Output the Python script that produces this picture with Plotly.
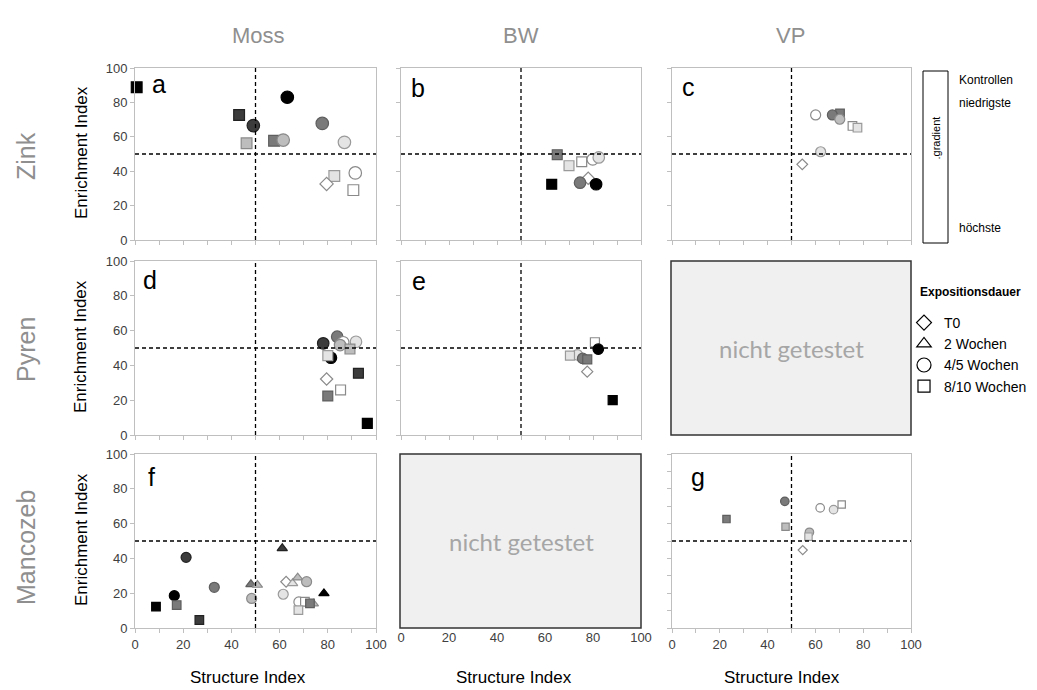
import plotly.graph_objects as go

W, H = 1037, 690

# ---------------- text / categories ----------------
col_titles = ["Moss", "BW", "VP"]
row_titles = ["Zink", "Pyren", "Mancozeb"]
panel_letters = ["a", "b", "c", "d", "e", "f", "g"]
legend_title = "Expositionsdauer"
legend_labels = ["T0", "2 Wochen", "4/5 Wochen", "8/10 Wochen"]
gradient_labels = ["Kontrollen", "niedrigste", "höchste"]
gradient_text = ".gradient"
not_tested = "nicht getestet"
x_title = "Structure Index"
y_title = "Enrichment Index"
tick_vals = [0, 20, 40, 60, 80, 100]
threshold = 50

# symbol codes: D = T0 (diamond), T = 2 Wochen, C = 4/5 Wochen, S = 8/10 Wochen
# shade codes: w = Kontrollen ... k = höchste Konzentration

# a: Moss / Zink
a_x = [0.7, 43.2, 49.1, 63.2, 46.3, 57.7, 61.5, 77.7, 86.9, 91.4, 82.7, 79.5, 90.6]
a_y = [88.8, 72.7, 66.5, 83.0, 56.2, 57.7, 58.1, 67.8, 56.8, 39.0, 37.2, 32.6, 29.0]
a_sym = ["S", "S", "C", "C", "S", "S", "C", "C", "C", "C", "S", "D", "S"]
a_shade = ["k", "d", "d", "k", "l", "m", "l", "m", "vl", "w", "vl", "w", "w"]

# b: BW / Zink
b_x = [65.1, 70.0, 75.3, 79.9, 82.4, 62.8, 78.0, 74.6, 81.3]
b_y = [49.6, 43.2, 45.5, 46.9, 48.0, 32.4, 35.9, 33.3, 32.4]
b_sym = ["S", "S", "S", "C", "C", "S", "D", "C", "C"]
b_shade = ["m", "vl", "w", "w", "vl", "k", "w", "m", "k"]

# c: VP / Zink
c_x = [60.1, 70.3, 67.1, 70.2, 75.5, 77.6, 62.2, 54.5]
c_y = [72.7, 73.6, 72.7, 70.2, 66.3, 65.3, 51.3, 44.0]
c_sym = ["C", "S", "C", "C", "S", "S", "C", "D"]
c_shade = ["w", "m", "m", "l", "w", "vl", "vl", "w"]

# d: Moss / Pyren
d_x = [79.5, 85.3, 80.0, 96.4, 92.7, 78.1, 83.9, 86.4, 85.1, 91.7, 89.2, 81.3, 80.0]
d_y = [32.2, 25.9, 22.4, 6.7, 35.5, 52.7, 56.5, 53.3, 51.7, 53.6, 49.4, 44.4, 45.6]
d_sym = ["D", "S", "S", "S", "S", "C", "C", "C", "C", "C", "S", "C", "S"]
d_shade = ["w", "w", "m", "k", "d", "d", "m", "w", "l", "vl", "l", "k", "vl"]

# e: BW / Pyren
e_x = [77.6, 88.2, 73.5, 70.4, 75.7, 77.6, 80.8, 82.2]
e_y = [36.4, 20.1, 46.0, 45.6, 44.0, 43.5, 53.3, 49.3]
e_sym = ["D", "S", "C", "S", "C", "S", "S", "C"]
e_shade = ["w", "k", "vl", "vl", "m", "m", "w", "k"]

# f: Moss / Mancozeb
f_x = [8.7, 16.3, 17.3, 21.2, 26.7, 32.9, 48.1, 50.8, 48.4, 61.1, 62.7, 65.4,
       67.5, 71.2, 61.5, 78.4, 68.0, 70.5, 67.8, 74.0, 72.6]
f_y = [12.3, 18.6, 13.2, 40.6, 4.6, 23.4, 25.1, 24.7, 17.0, 45.8, 26.6, 25.7,
       28.9, 26.6, 19.4, 19.9, 15.0, 15.1, 10.3, 14.0, 14.2]
f_sym = ["S", "C", "S", "C", "S", "C", "T", "T", "C", "T", "D", "T",
         "T", "C", "C", "T", "C", "S", "S", "T", "S"]
f_shade = ["k", "k", "m", "d", "d", "m", "m", "l", "l", "d", "w", "vl",
           "l", "l", "vl", "k", "w", "w", "vl", "l", "m"]

# g: VP / Mancozeb
g_x = [22.8, 47.2, 47.5, 62.0, 67.6, 71.0, 57.5, 57.1, 54.7]
g_y = [62.6, 72.8, 58.2, 69.0, 68.0, 71.0, 55.0, 52.5, 44.8]
g_sym = ["S", "C", "S", "C", "C", "S", "C", "S", "D"]
g_shade = ["m", "m", "l", "w", "vl", "w", "l", "vl", "w"]

# ---------------- styles ----------------
FILL = {"w": "#ffffff", "vl": "#e4e4e4", "l": "#bdbdbd", "m": "#7a7a7a", "d": "#3c3c3c", "k": "#000000"}
EDGE = {"w": "#8a8a8a", "vl": "#9a9a9a", "l": "#8a8a8a", "m": "#5e5e5e", "d": "#222222", "k": "#000000"}
SYM = {"D": "diamond", "T": "triangle-up", "C": "circle", "S": "square"}
SYM_SCALE = {"D": 0.82, "T": 0.9, "C": 1.0, "S": 0.86}

COLS = [(135, 376), (401, 641), (672, 911)]
ROWS = [(68, 240), (261, 435), (454, 628)]
FONT = "Liberation Sans"
TITLE_GRAY = "#8f8f8f"
FRAME = "#bfbfbf"

panels = [
    dict(x=a_x, y=a_y, sym=a_sym, shade=a_shade, row=0, col=0, size=12.5, lab=(150, 84)),
    dict(x=b_x, y=b_y, sym=b_sym, shade=b_shade, row=0, col=1, size=11.5, lab=(409, 88)),
    dict(x=c_x, y=c_y, sym=c_sym, shade=c_shade, row=0, col=2, size=10, lab=(680, 87)),
    dict(x=d_x, y=d_y, sym=d_sym, shade=d_shade, row=1, col=0, size=11.5, lab=(141, 280)),
    dict(x=e_x, y=e_y, sym=e_sym, shade=e_shade, row=1, col=1, size=10.5, lab=(410, 281)),
    dict(x=f_x, y=f_y, sym=f_sym, shade=f_shade, row=2, col=0, size=10, lab=(146, 477)),
    dict(x=g_x, y=g_y, sym=g_sym, shade=g_shade, row=2, col=2, size=8.5, lab=(689, 477)),
]


def ax_key(kind, n):
    return f"{kind}axis" if n == 1 else f"{kind}axis{n}"


def ax_ref(kind, n):
    return kind if n == 1 else f"{kind}{n}"


def paper_text(text, px, py, size, color="black", angle=0, xanchor="center",
               family=FONT):
    fig.add_annotation(text=text, x=px / W, y=1 - py / H, xref="paper", yref="paper",
                       xanchor=xanchor, yanchor="middle", textangle=angle,
                       showarrow=False, font=dict(family=family, size=size, color=color))


fig = go.Figure()
layout = {}

for i, p in enumerate(panels):
    n = i + 1
    xr, yr = ax_ref("x", n), ax_ref("y", n)
    fig.add_trace(go.Scatter(
        x=p["x"], y=p["y"], mode="markers", xaxis=xr, yaxis=yr,
        cliponaxis=False, showlegend=False, hoverinfo="skip",
        marker=dict(
            symbol=[SYM[s] for s in p["sym"]],
            size=[p["size"] * SYM_SCALE[s] for s in p["sym"]],
            color=[FILL[c] for c in p["shade"]],
            line=dict(color=[EDGE[c] for c in p["shade"]], width=1.2),
            opacity=1,
        ),
    ))
    c0, c1 = COLS[p["col"]]
    r0, r1 = ROWS[p["row"]]
    base = dict(range=[0, 100], tickvals=tick_vals, showline=True, mirror=True,
                linecolor=FRAME, linewidth=1, ticks="outside", ticklen=4,
                tickcolor=FRAME, showgrid=False, zeroline=False, automargin=False,
                tickfont=dict(family=FONT, size=13, color="#404040"),
                fixedrange=True)
    layout[ax_key("x", n)] = dict(base, domain=[c0 / W, c1 / W], anchor=yr,
                                  showticklabels=(p["row"] == 2),
                                  minor=dict(dtick=10, tick0=0, ticks="outside", ticklen=4, tickcolor=FRAME))
    ymin = dict(minor=dict(dtick=10, tick0=0, ticks="outside", ticklen=4, tickcolor=FRAME)) if n == 7 else {}
    layout[ax_key("y", n)] = dict(base, domain=[1 - r1 / H, 1 - r0 / H], anchor=xr,
                                  showticklabels=(p["col"] == 0), **ymin)
    # threshold lines
    fig.add_shape(type="line", xref=xr, yref=f"{yr} domain", x0=threshold, x1=threshold,
                  y0=0, y1=1, line=dict(color="black", width=1.3, dash="4px,3px"))
    fig.add_shape(type="line", xref=f"{xr} domain", yref=yr, x0=0, x1=1,
                  y0=threshold, y1=threshold, line=dict(color="black", width=1.3, dash="4px,3px"))
    # panel letter
    lx, ly = p["lab"]
    paper_text(panel_letters[i], lx, ly, 25, xanchor="left")

# axis under BW / Mancozeb (labels only, box drawn over it)
layout["xaxis8"] = dict(domain=[COLS[1][0] / W, COLS[1][1] / W], anchor="y8", range=[0, 100],
                        tickvals=tick_vals, showline=False, ticks="", showgrid=False, zeroline=False,
                        automargin=False,
                        tickfont=dict(family=FONT, size=13, color="#404040"), fixedrange=True)
layout["yaxis8"] = dict(domain=[1 - ROWS[2][1] / H, 1 - ROWS[2][0] / H], anchor="x8", range=[0, 100],
                        visible=False, fixedrange=True)
fig.add_trace(go.Scatter(x=[None], y=[None], xaxis="x8", yaxis="y8", showlegend=False))

# "nicht getestet" boxes
for (r, c) in [(1, 2), (2, 1)]:
    c0, c1 = COLS[c]
    r0, r1 = ROWS[r]
    fig.add_shape(type="rect", xref="paper", yref="paper", x0=(c0 - 1) / W, x1=c1 / W,
                  y0=1 - r1 / H, y1=1 - r0 / H, fillcolor="#f0f0f0",
                  line=dict(color="#333333", width=1.5), layer="above")
    paper_text(not_tested, (c0 + c1) / 2, (r0 + r1) / 2, 24, color="#a6a6a6", family="Lato")

# column titles
for j, t in enumerate(col_titles):
    paper_text(t, [258, 521, 790][j], 35, 22, color=TITLE_GRAY)
# row titles
for k, t in enumerate(row_titles):
    paper_text(t, 26, [156, 350, 548][k], 25, color=TITLE_GRAY, angle=-90)
# y axis titles
for k in range(3):
    paper_text(y_title, 81, [153, 347, 540][k], 17, angle=-90)
# x axis titles
for j in range(3):
    paper_text(x_title, [248, 514, 782][j], 677, 17)

# gradient key
fig.add_shape(type="rect", xref="paper", yref="paper", x0=923 / W, x1=948 / W,
              y0=1 - 243 / H, y1=1 - 71 / H, line=dict(color="black", width=1), fillcolor="white")
paper_text(gradient_text, 935.5, 138, 11, angle=-90)
for t, yy in zip(gradient_labels, [80, 103, 228]):
    paper_text(t, 957, yy, 12, xanchor="left")

# exposure-duration legend
paper_text("<b>" + legend_title + "</b>", 918, 292, 12, xanchor="left")
for lab, s in zip(legend_labels, ["D", "T", "C", "S"]):
    fig.add_trace(go.Scatter(x=[None], y=[None], mode="markers", name=lab, showlegend=True,
                             marker=dict(symbol=SYM[s] + "-open", size=14 * SYM_SCALE[s],
                                         color="black", line=dict(width=1.2))))

fig.update_layout(
    width=W, height=H, margin=dict(l=0, r=0, t=0, b=0, autoexpand=False),
    paper_bgcolor="white", plot_bgcolor="white",
    legend=dict(x=904 / W, y=1 - 307 / H, xanchor="left", yanchor="top",
                font=dict(family=FONT, size=14, color="black"),
                bgcolor="rgba(0,0,0,0)", itemwidth=30, tracegroupgap=0),
    **layout,
)

fig.write_html("out.html")
